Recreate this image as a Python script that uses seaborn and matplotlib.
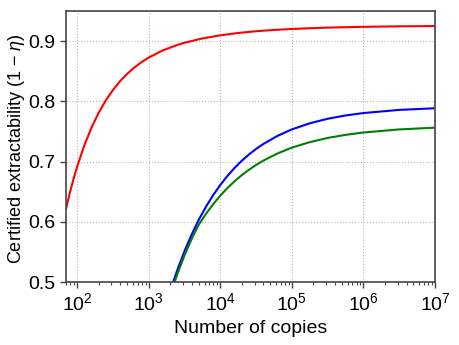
import numpy as np
import pandas as pd
import matplotlib
matplotlib.use("Agg")
import matplotlib.pyplot as plt
import seaborn as sns

# values (log10 of copies, certified extractability)
red_logx = [1.842, 1.9, 1.95, 2.0, 2.1, 2.2, 2.3, 2.4, 2.5, 2.6, 2.7, 2.8, 2.9, 3.0,
            3.2, 3.4, 3.5, 3.75, 4.0, 4.25, 4.5, 4.75, 5.0, 5.5, 6.0, 6.5, 7.0]
red_y = [0.622, 0.6502, 0.6723, 0.6925, 0.7276, 0.7569, 0.7814, 0.8020, 0.8192, 0.8338, 0.8460, 0.8565, 0.8654, 0.8729,
         0.8849, 0.8938, 0.8974, 0.9045, 0.9097, 0.9136, 0.9165, 0.9186, 0.9203, 0.9225, 0.9238, 0.9246, 0.9251]

blue_logx = [3.34, 3.4, 3.5, 3.6, 3.7, 3.8, 3.9, 4.0, 4.1, 4.2, 4.3, 4.4, 4.5, 4.6,
             4.8, 5.0, 5.25, 5.5, 5.75, 6.0, 6.5, 7.0]
blue_y = [0.500, 0.5206, 0.5517, 0.5793, 0.6038, 0.6254, 0.6445, 0.6614, 0.6764, 0.6897, 0.7015, 0.7119, 0.7211, 0.7292,
          0.7428, 0.7535, 0.7636, 0.7711, 0.7766, 0.7806, 0.7858, 0.7886]

green_logx = [3.36, 3.4, 3.5, 3.6, 3.7, 3.8, 3.9, 4.0, 4.1, 4.2, 4.3, 4.4, 4.5, 4.6,
              4.8, 5.0, 5.25, 5.5, 5.75, 6.0, 6.5, 7.0]
green_y = [0.500, 0.5136, 0.5448, 0.5720, 0.5957, 0.6135, 0.6294, 0.6436, 0.6563, 0.6675, 0.6776, 0.6865, 0.6945, 0.7016,
           0.7136, 0.7232, 0.7323, 0.7393, 0.7444, 0.7483, 0.7534, 0.7563]

y_ticks = [0.5, 0.6, 0.7, 0.8, 0.9]

sns.set_theme(style="ticks")
plt.rcParams["font.family"] = ["Liberation Sans", "DejaVu Sans"]
plt.rcParams["mathtext.fontset"] = "custom"
plt.rcParams["mathtext.rm"] = "Liberation Sans"
plt.rcParams["mathtext.it"] = "Liberation Sans:italic"
plt.rcParams["text.color"] = "black"
plt.rcParams["axes.labelcolor"] = "black"
plt.rcParams["xtick.color"] = "black"
plt.rcParams["ytick.color"] = "black"

fig, ax = plt.subplots(figsize=(4.6, 3.45), dpi=100)
fig.subplots_adjust(left=0.1435, right=0.9457, bottom=0.1826, top=0.968)

for logx, y, c in [(red_logx, red_y, "red"), (blue_logx, blue_y, "blue"), (green_logx, green_y, "green")]:
    df = pd.DataFrame({"copies": np.power(10.0, logx), "extract": y})
    sns.lineplot(data=df, x="copies", y="extract", color=c, linewidth=1.5, ax=ax)

ax.set_xscale("log")
ax.set_xlim(10 ** 1.842, 1e7)
ax.set_ylim(0.5, 0.95)
ax.set_yticks(y_ticks)
ax.set_yticklabels([f"{t:.1f}" for t in y_ticks])

ax.grid(True, which="major", linestyle=":", color="0.72", linewidth=0.8)
for s in ax.spines.values():
    s.set_visible(True)
    s.set_color("#444444")
    s.set_linewidth(1.2)

ax.tick_params(axis="both", which="major", labelsize=14, length=4, width=1, color="#444444", direction="out")
ax.tick_params(axis="x", which="minor", length=2, width=0.8, color="#444444", direction="out")

ax.set_xlabel("Number of copies", fontsize=14)
ax.set_ylabel("Certified extractability (1 $-$ $\\mathit{\\eta}$)", fontsize=13)
ax.yaxis.set_label_coords(-0.106, 0.49)

fig.savefig("out.png", dpi=100)
